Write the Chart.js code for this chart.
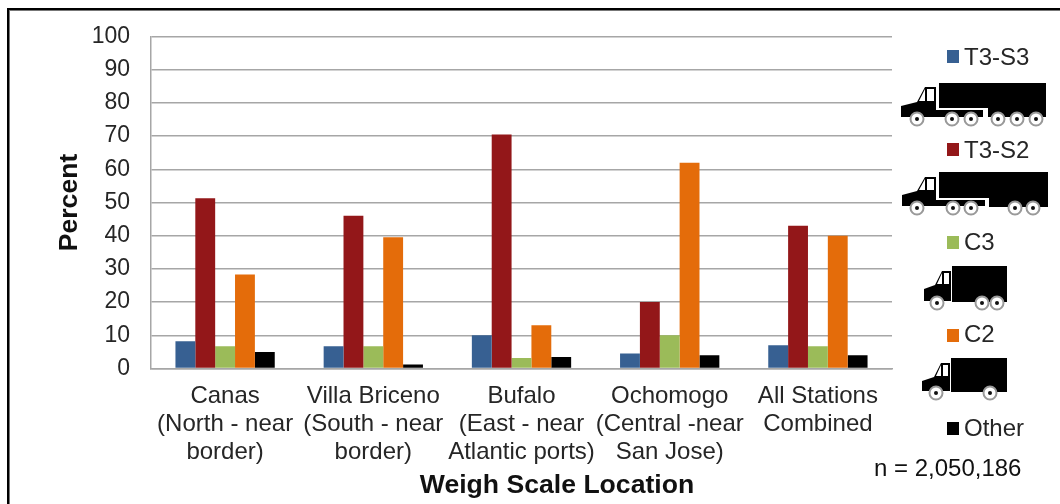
<!DOCTYPE html>
<html>
<head>
<meta charset="utf-8">
<style>
  html, body { margin: 0; padding: 0; background: #fff; overflow: hidden; }
  #wrap { position: relative; width: 1060px; height: 504px; }
  #frame { position: absolute; left: 7px; top: 8px; width: 1080px; height: 540px; border: 2px solid #000; box-shadow: inset 1px 1px 0 #777; box-sizing: border-box; }
</style>
<script src="https://cdn.jsdelivr.net/npm/chart.js@4"></script>
</head>
<body>
<div id="wrap">
  <div id="frame"></div>
  <canvas id="chart" width="1060" height="504" style="position:absolute;left:0;top:0"></canvas>
</div>
<script>
const stations = [
  ['Canas', '(North - near', 'border)'],
  ['Villa Briceno', '(South - near', 'border)'],
  ['Bufalo', '(East - near', 'Atlantic ports)'],
  ['Ochomogo', '(Central -near', 'San Jose)'],
  ['All Stations', 'Combined'],
];
const t3s3 = [8.2, 6.7, 10, 4.5, 7];
const t3s2 = [51.3, 46, 70.5, 20, 43];
const c3 = [6.7, 6.7, 3.2, 10, 6.7];
const c2 = [28.3, 39.5, 13, 62, 40];
const other = [5, 1.2, 3.5, 4, 4];
const seriesNames = ['T3-S3', 'T3-S2', 'C3', 'C2', 'Other'];
const seriesColors = ['#376092', '#931719', '#9bbb59', '#e46c0a', '#000000'];
const seriesValues = [t3s3, t3s2, c3, c2, other];

const FONT = '"Liberation Sans", Arial, sans-serif';
const TEXT = '#262626';

// legend rows sit between the truck icons, so they are laid out by hand
const legendRows = [
  { swatchY: 50, textY: 58 },
  { swatchY: 143, textY: 151 },
  { swatchY: 236, textY: 243 },
  { swatchY: 329, textY: 335 },
  { swatchY: 422, textY: 429 },
];

function wheel(ctx, x, y) {
  ctx.fillStyle = '#fff';
  ctx.strokeStyle = '#999';
  ctx.lineWidth = 2;
  ctx.beginPath(); ctx.arc(x, y, 6.5, 0, Math.PI * 2); ctx.fill(); ctx.stroke();
  ctx.fillStyle = '#111';
  ctx.beginPath(); ctx.arc(x, y, 2, 0, Math.PI * 2); ctx.fill();
}

// hood, windshield and cab window
function cab(ctx, c) {
  ctx.fillStyle = '#000';
  ctx.beginPath();
  ctx.moveTo(c.front, c.bottom);
  ctx.lineTo(c.front, c.hoodFront);
  ctx.lineTo(c.hoodEnd, c.hood);
  ctx.lineTo(c.roofLeft, c.roof);
  ctx.lineTo(c.roofRight, c.roof);
  ctx.lineTo(c.roofRight, c.bottom);
  ctx.closePath();
  ctx.fill();
  ctx.fillStyle = '#fff';
  ctx.beginPath();
  ctx.moveTo(c.hoodEnd + 2, c.hood - 1);
  ctx.lineTo(c.roofLeft, c.roof + 2);
  ctx.lineTo(c.roofLeft, c.hood - 1);
  ctx.closePath();
  ctx.fill();
  ctx.fillRect(c.roofLeft + 2, c.roof + 2, c.roofRight - c.roofLeft - 4, c.hood - c.roof - 3);
}

function drawTrucks(ctx) {
  // T3-S3
  cab(ctx, { front: 901, hoodFront: 106, hoodEnd: 917, hood: 102, roofLeft: 925, roof: 87, roofRight: 936, bottom: 117 });
  ctx.fillStyle = '#000';
  ctx.fillRect(936, 110, 47, 7);
  ctx.fillRect(939, 83, 107, 25);
  ctx.fillRect(988, 108, 58, 9);
  [917, 952, 971, 998, 1017, 1036].forEach((x) => wheel(ctx, x, 119));

  // T3-S2
  cab(ctx, { front: 902, hoodFront: 195, hoodEnd: 917, hood: 191, roofLeft: 925, roof: 177, roofRight: 936, bottom: 206 });
  ctx.fillStyle = '#000';
  ctx.fillRect(936, 200, 49, 6);
  ctx.fillRect(939, 172, 109, 26);
  ctx.fillRect(989, 198, 59, 9);
  [917, 953, 971, 1015, 1033].forEach((x) => wheel(ctx, x, 208));

  // C3
  cab(ctx, { front: 924, hoodFront: 289, hoodEnd: 935, hood: 285, roofLeft: 942, roof: 271, roofRight: 951, bottom: 301 });
  ctx.fillStyle = '#000';
  ctx.fillRect(952, 266, 55, 36);
  [937, 982, 997].forEach((x) => wheel(ctx, x, 303));

  // C2
  cab(ctx, { front: 922, hoodFront: 381, hoodEnd: 934, hood: 377, roofLeft: 941, roof: 363, roofRight: 950, bottom: 391 });
  ctx.fillStyle = '#000';
  ctx.fillRect(951, 358, 56, 34);
  [936, 990].forEach((x) => wheel(ctx, x, 393));
}

const sidePanel = {
  id: 'sidePanel',
  afterDraw(chart) {
    const ctx = chart.ctx;
    ctx.save();
    drawTrucks(ctx);
    ctx.font = '24px ' + FONT;
    ctx.textBaseline = 'middle';
    ctx.textAlign = 'left';
    legendRows.forEach((row, i) => {
      ctx.fillStyle = seriesColors[i];
      ctx.fillRect(947, row.swatchY, 12, 13);
      ctx.fillStyle = TEXT;
      ctx.fillText(seriesNames[i], 964, row.textY);
    });
    ctx.fillStyle = '#111';
    ctx.fillText('n = 2,050,186', 874, 469);
    // axis title sits right of the plot centre, so the scale title can't place it
    ctx.font = 'bold 26.6px ' + FONT;
    ctx.textAlign = 'center';
    ctx.fillText('Weigh Scale Location', 557, 486);
    ctx.restore();
  },
};

new Chart(document.getElementById('chart'), {
  type: 'bar',
  data: {
    labels: stations,
    datasets: seriesNames.map((name, i) => ({
      label: name,
      data: seriesValues[i],
      backgroundColor: seriesColors[i],
      categoryPercentage: 0.67,
      barPercentage: 1,
    })),
  },
  options: {
    responsive: false,
    animation: false,
    layout: { padding: { top: 36.5, right: 168, left: 0, bottom: 0 } },
    plugins: { legend: { display: false }, tooltip: { enabled: false } },
    scales: {
      x: {
        afterFit: (s) => { s.height = 135.5; },
        grid: { display: false },
        border: { color: '#a6a6a6', width: 1.5 },
        ticks: { color: TEXT, font: { family: FONT, size: 24, lineHeight: 1.16 }, maxRotation: 0, autoSkip: false, padding: 6 },
      },
      y: {
        min: 0,
        max: 100,
        afterFit: (s) => { s.width = 151; },
        grid: { color: '#a6a6a6', lineWidth: 1.5, drawTicks: false },
        border: { color: '#a6a6a6', width: 1.5 },
        ticks: { stepSize: 10, color: TEXT, font: { family: FONT, size: 23 }, padding: 21 },
        title: { display: true, text: 'Percent', color: '#111', font: { family: FONT, size: 26.6, weight: 'bold' }, padding: { top: 54, bottom: 0 } },
      },
    },
  },
  plugins: [sidePanel],
});
</script>
</body>
</html>
